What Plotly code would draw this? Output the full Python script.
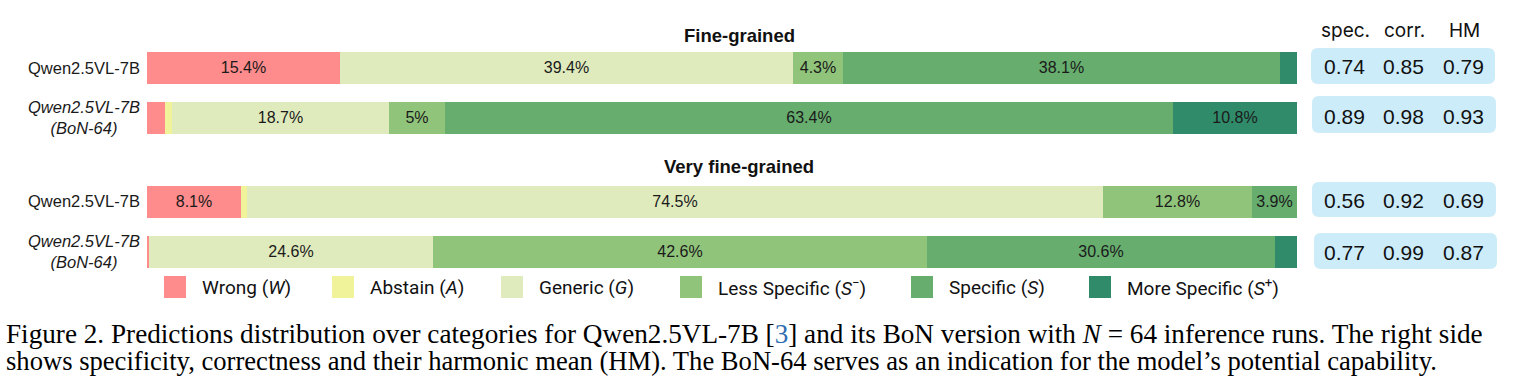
import plotly.graph_objects as go

W, H = 1517, 388

# ---------------- data ----------------
categories = ["Wrong (<i>W</i>)", "Abstain (<i>A</i>)", "Generic (<i>G</i>)",
              "Less Specific (<i>S</i><sup>−</sup>)", "Specific (<i>S</i>)",
              "More Specific (<i>S</i><sup>+</sup>)"]
colors = ["#ff8c8c", "#f0f39a", "#e0ebbd", "#90c47a", "#66ad6e", "#308b6a"]

models = ["Qwen2.5VL-7B", "Qwen2.5VL-7B (BoN-64)"]
model_labels = ["Qwen2.5VL-7B", "<i>Qwen2.5VL-7B<br>(BoN-64)</i>"]

# Fine-grained (segment widths as drawn, % ; labels as printed)
fine_wrong = [16.8, 1.6]
fine_abstain = [0.0, 0.6]
fine_generic = [39.4, 18.8]
fine_less = [4.3, 4.9]
fine_specific = [38.0, 63.3]
fine_more = [1.5, 10.8]
fine_wrong_lbl = ["15.4%", ""]
fine_abstain_lbl = ["", ""]
fine_generic_lbl = ["39.4%", "18.7%"]
fine_less_lbl = ["4.3%", "5%"]
fine_specific_lbl = ["38.1%", "63.4%"]
fine_more_lbl = ["", "10.8%"]

# Very fine-grained
vfine_wrong = [8.2, 0.2]
vfine_abstain = [0.5, 0.0]
vfine_generic = [74.4, 24.7]
vfine_less = [13.0, 42.9]
vfine_specific = [3.9, 30.3]
vfine_more = [0.0, 1.9]
vfine_wrong_lbl = ["8.1%", ""]
vfine_abstain_lbl = ["", ""]
vfine_generic_lbl = ["74.5%", "24.6%"]
vfine_less_lbl = ["12.8%", "42.6%"]
vfine_specific_lbl = ["3.9%", "30.6%"]
vfine_more_lbl = ["", ""]

metric_names = ["spec.", "corr.", "HM"]
fine_metrics = [["0.74", "0.85", "0.79"], ["0.89", "0.98", "0.93"]]
vfine_metrics = [["0.56", "0.92", "0.69"], ["0.77", "0.99", "0.87"]]

section_titles = ["Fine-grained", "Very fine-grained"]

caption_1 = ("Figure 2. Predictions distribution over categories for Qwen2.5VL-7B "
             "[<span style='color:#2f6db3'>3</span>] and its BoN version with <i>N</i> = 64 "
             "inference runs. The right side")
caption_2 = ("shows specificity, correctness and their harmonic mean (HM). The BoN-64 "
             "serves as an indication for the model’s potential capability.")


# ---------------- helpers (pixel -> paper) ----------------
def px(x):
    return x / W


def py(y):
    return 1 - y / H


fig = go.Figure()

sections = [
    ("x", "y", [fine_wrong, fine_abstain, fine_generic, fine_less, fine_specific, fine_more],
     [fine_wrong_lbl, fine_abstain_lbl, fine_generic_lbl, fine_less_lbl, fine_specific_lbl, fine_more_lbl]),
    ("x2", "y2", [vfine_wrong, vfine_abstain, vfine_generic, vfine_less, vfine_specific, vfine_more],
     [vfine_wrong_lbl, vfine_abstain_lbl, vfine_generic_lbl, vfine_less_lbl, vfine_specific_lbl, vfine_more_lbl]),
]

for xa, ya, vals, lbls in sections:
    for i, (v, l) in enumerate(zip(vals, lbls)):
        fig.add_trace(go.Bar(
            x=v, y=models, orientation="h", xaxis=xa, yaxis=ya,
            marker=dict(color=colors[i], line=dict(width=0)),
            text=l, textposition="inside", insidetextanchor="middle",
            textangle=0, constraintext="none",
            textfont=dict(family="Liberation Sans, Arial, sans-serif", size=16, color="#1a1a1a"),
            width=0.63, showlegend=False, hoverinfo="skip",
        ))

bar_left, bar_right = 147, 1297
sec1_top, sec2_top = 42.5, 176.5
axis_common = dict(showgrid=False, zeroline=False, showline=False, showticklabels=False, ticks="")

fig.update_layout(
    width=W, height=H, margin=dict(l=0, r=0, t=0, b=0),
    paper_bgcolor="white", plot_bgcolor="white",
    barmode="stack", bargap=0,
    uniformtext=dict(minsize=16, mode="show"),
    xaxis=dict(domain=[px(bar_left), px(bar_right)], range=[0, 100], anchor="y", **axis_common),
    yaxis=dict(domain=[py(sec1_top + 100), py(sec1_top)], range=[1.5, -0.5],
               categoryorder="array", categoryarray=models, anchor="x", **axis_common),
    xaxis2=dict(domain=[px(bar_left), px(bar_right)], range=[0, 100], anchor="y2", **axis_common),
    yaxis2=dict(domain=[py(sec2_top + 100), py(sec2_top)], range=[1.5, -0.5],
                categoryorder="array", categoryarray=models, anchor="x2", **axis_common),
)

annotations = []
shapes = []

# row labels
for ya in ["y", "y2"]:
    for m, lab in zip(models, model_labels):
        annotations.append(dict(
            x=px(142), xref="paper", y=m, yref=ya, text=lab, showarrow=False,
            xanchor="right", yanchor="middle", align="center",
            font=dict(family="Liberation Sans, Arial, sans-serif", size=16.5, color="#1a1a1a"),
        ))

# section titles
for t, yc in zip(section_titles, [35, 166]):
    annotations.append(dict(
        x=px(739), xref="paper", y=py(yc), yref="paper", text=f"<b>{t}</b>", showarrow=False,
        xanchor="center", yanchor="middle",
        font=dict(family="Liberation Sans, Arial, sans-serif", size=18.5, color="#111"),
    ))

# metric headers
metric_x = [1345, 1404, 1464]
for name, xc in zip(metric_names, metric_x):
    annotations.append(dict(
        x=px(xc), xref="paper", y=py(31), yref="paper", text=name, showarrow=False,
        xanchor="center", yanchor="middle",
        font=dict(family="Inter, Liberation Sans, sans-serif", size=19, color="#111"),
    ))


def rounded_box(x0, y0, x1, y1, r=7):
    X0, X1 = px(x0), px(x1)
    Y0, Y1 = py(y0), py(y1)
    rx, ry = r / W, r / H
    return (f"M {X0+rx},{Y0} L {X1-rx},{Y0} Q {X1},{Y0} {X1},{Y0-ry} "
            f"L {X1},{Y1+ry} Q {X1},{Y1} {X1-rx},{Y1} L {X0+rx},{Y1} "
            f"Q {X0},{Y1} {X0},{Y1+ry} L {X0},{Y0-ry} Q {X0},{Y0} {X0+rx},{Y0} Z")


boxes = [(1311, 48, 1495, 84), (1312, 96, 1496, 133), (1312, 182, 1496, 217), (1314, 233, 1497, 269)]
row_metrics = fine_metrics + vfine_metrics
row_yc = [66.5, 116, 200.5, 252]
for (x0, y0, x1, y1), mets, yc in zip(boxes, row_metrics, row_yc):
    shapes.append(dict(type="path", xref="paper", yref="paper", path=rounded_box(x0, y0, x1, y1),
                       fillcolor="#cdecfa", line=dict(width=0), layer="below"))
    for v, xc in zip(mets, metric_x):
        annotations.append(dict(
            x=px(xc - 1), xref="paper", y=py(yc), yref="paper", text=v, showarrow=False,
            xanchor="center", yanchor="middle",
            font=dict(family="Liberation Sans, Arial, sans-serif", size=21, color="#111"),
        ))

# legend (manual)
patch_x = [164, 332, 501, 680, 911, 1089]
leg_y0, leg_y1 = 276, 298
for name, col, x0 in zip(categories, colors, patch_x):
    shapes.append(dict(type="rect", xref="paper", yref="paper",
                       x0=px(x0), x1=px(x0 + 22), y0=py(leg_y1), y1=py(leg_y0),
                       fillcolor=col, line=dict(width=0)))
    annotations.append(dict(
        x=px(x0 + 36), xref="paper", y=py(287.5), yref="paper", text=name, showarrow=False,
        xanchor="left", yanchor="middle",
        font=dict(family="Roboto, sans-serif", size=19, color="#111"),
    ))

# caption
for txt, yc, fs in [(caption_1, 334, 27.2), (caption_2, 361, 26.6)]:
    annotations.append(dict(
        x=px(4), xref="paper", y=py(yc), yref="paper", text=txt, showarrow=False,
        xanchor="left", yanchor="middle", align="left",
        font=dict(family="Liberation Serif, Times New Roman, serif", size=fs, color="#000"),
    ))

fig.update_layout(annotations=annotations, shapes=shapes)
fig.write_html("out.html")
